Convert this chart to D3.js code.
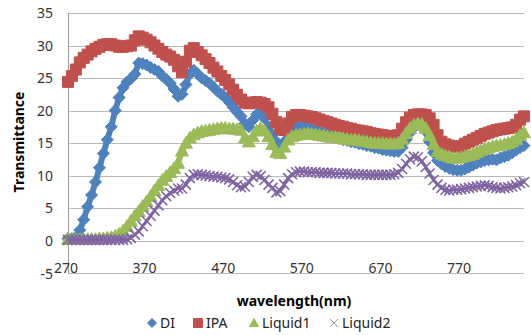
<!DOCTYPE html>
<html>
<head>
<meta charset="utf-8">
<script src="https://cdn.jsdelivr.net/npm/d3@7"></script>
<style>
    body { margin: 0; background: #fff; }
    svg { display: block; font-family: "Noto Sans", "Open Sans", sans-serif; }
</style>
</head>
<body>
<div id="chart"></div>
<script>

// wavelength categories (nm), one reading every 5 nm
var wavelength = d3.range(270, 851, 5);
var xTicks = [270, 370, 470, 570, 670, 770];
var yTicks = [-5, 0, 5, 10, 15, 20, 25, 30, 35];
var seriesNames = ["DI", "IPA", "Liquid1", "Liquid2"];

var di = [
    0.3, 0.3, 0.5, 1.6, 3.2, 5.2, 7.0, 9.0, 11.2, 13.4,
    15.5, 17.5, 20.0, 22.0, 23.5, 24.4, 24.9, 25.6, 27.3, 27.2,
    27.0, 26.6, 26.3, 26.0, 25.3, 24.8, 24.2, 23.3, 22.2, 22.5,
    24.0, 25.6, 26.2, 25.6, 25.0, 24.6, 24.2, 23.6, 23.0, 22.5,
    22.0, 21.3, 20.5, 19.8, 19.1, 18.0, 17.5, 18.5, 19.4, 19.6,
    18.8, 17.5, 16.3, 15.2, 14.4, 15.2, 16.5, 17.2, 17.5, 17.6,
    17.5, 17.3, 17.1, 16.9, 16.7, 16.5, 16.3, 16.1, 15.9, 15.7,
    15.5, 15.4, 15.2, 15.1, 14.9, 14.8, 14.6, 14.5, 14.3, 14.2,
    14.0, 13.9, 13.8, 13.7, 13.7, 14.3, 15.5, 16.6, 17.4, 17.8,
    17.6, 16.8, 15.2, 13.5, 12.3, 11.8, 11.4, 11.1, 10.9, 10.8,
    10.8, 11.0, 11.3, 11.6, 11.9, 12.1, 12.3, 12.4, 12.5, 12.4,
    12.7, 12.9, 13.1, 13.5, 13.9, 14.3, 14.6
];

var ipa = [
    24.4, 25.3, 26.3, 27.4, 28.1, 28.6, 29.1, 29.5, 29.8, 30.1,
    30.2, 30.2, 30.0, 29.8, 29.8, 29.9, 30.0, 30.8, 31.4, 31.2,
    30.9, 30.5, 30.0, 29.5, 29.0, 28.6, 28.3, 27.8, 26.8, 25.9,
    27.5, 29.2, 29.6, 29.0, 28.5, 27.9, 27.3, 26.6, 26.0, 25.3,
    24.7, 24.0, 23.2, 22.4, 21.7, 21.2, 21.1, 21.2, 21.3, 21.2,
    21.0, 20.5, 19.5, 18.2, 17.2, 17.0, 18.0, 19.0, 19.3, 19.3,
    19.2, 19.1, 19.0, 18.8, 18.6, 18.4, 18.2, 18.0, 17.8, 17.6,
    17.5, 17.3, 17.2, 17.0, 16.9, 16.8, 16.7, 16.5, 16.4, 16.3,
    16.2, 16.1, 16.1, 16.0, 16.2, 17.2, 18.2, 18.9, 19.3, 19.4,
    19.4, 19.3, 18.8, 17.8, 16.2, 15.2, 14.8, 14.6, 14.5, 14.4,
    14.5, 14.9, 15.2, 15.5, 15.8, 16.1, 16.4, 16.6, 16.8, 17.0,
    17.1, 17.2, 17.3, 17.4, 17.8, 18.6, 19.1
];

var liquid1 = [
    0.2, 0.2, 0.2, 0.2, 0.2, 0.2, 0.2, 0.2, 0.3, 0.3,
    0.4, 0.5, 0.7, 1.0, 1.5, 2.2, 3.0, 3.8, 4.5, 5.3,
    6.0, 6.8, 7.7, 8.5, 9.3, 9.9, 10.5, 11.1, 11.9, 13.8,
    15.0, 15.8, 16.3, 16.6, 16.8, 16.9, 17.0, 17.1, 17.2, 17.3,
    17.3, 17.2, 17.2, 17.1, 17.0, 15.8, 15.2, 16.0, 16.9, 17.3,
    16.9, 16.0, 14.8, 13.6, 13.4, 14.4, 15.5, 16.0, 16.2, 16.3,
    16.4, 16.5, 16.4, 16.3, 16.2, 16.1, 16.0, 15.9, 15.9, 15.8,
    15.7, 15.6, 15.5, 15.5, 15.4, 15.3, 15.2, 15.1, 15.0, 15.0,
    15.0, 14.9, 14.9, 14.9, 15.0, 15.6, 16.5, 17.3, 17.8, 18.0,
    17.9, 17.3, 16.2, 14.8, 13.7, 13.3, 13.1, 12.9, 12.7, 12.7,
    12.8, 13.0, 13.1, 13.3, 13.6, 13.9, 14.1, 14.3, 14.5, 14.6,
    14.7, 14.8, 15.0, 15.2, 15.6, 16.2, 16.6
];

var liquid2 = [
    0.1, 0.1, 0.1, 0.1, 0.1, 0.1, 0.1, 0.1, 0.1, 0.1,
    0.1, 0.1, 0.1, 0.1, 0.1, 0.2, 0.4, 0.9, 1.4, 2.2,
    3.0, 3.8, 4.6, 5.4, 6.2, 6.8, 7.3, 7.7, 8.0, 8.0,
    8.6, 9.6, 10.1, 10.2, 10.1, 10.0, 9.9, 9.8, 9.8, 9.7,
    9.6, 9.4, 9.0, 8.5, 8.2, 8.3, 9.0, 9.8, 10.1, 9.9,
    9.3, 8.6, 8.1, 7.4, 7.6, 8.6, 9.6, 10.2, 10.5, 10.6,
    10.6, 10.5, 10.5, 10.5, 10.4, 10.4, 10.4, 10.4, 10.3, 10.3,
    10.3, 10.3, 10.2, 10.2, 10.2, 10.2, 10.1, 10.1, 10.1, 10.1,
    10.1, 10.1, 10.1, 10.2, 10.4, 11.0, 11.8, 12.5, 12.9, 12.8,
    12.2, 11.3, 10.3, 9.3, 8.6, 8.1, 7.8, 7.7, 7.8, 7.8,
    7.9, 8.0, 8.1, 8.2, 8.3, 8.4, 8.5, 8.4, 8.2, 8.1,
    8.0, 8.1, 8.2, 8.3, 8.5, 8.8, 9.0
];

var seriesValues = [di, ipa, liquid1, liquid2];

var colors = ["#4F81BD", "#C0504D", "#9BBB59", "#8064A2"];
var markers = ["diamond", "square", "triangle", "cross"];

// marker path around 0,0 with half size r
function markerPath(type, r) {
    if (type == "diamond") {
        return "M0," + (-r) + "L" + r + ",0L0," + r + "L" + (-r) + ",0Z";
    }
    if (type == "square") {
        return "M" + (-r) + "," + (-r) + "h" + (2 * r) + "v" + (2 * r) + "h" + (-2 * r) + "Z";
    }
    if (type == "triangle") {
        return "M0," + (-r) + "L" + r + "," + (r * 0.8) + "L" + (-r) + "," + (r * 0.8) + "Z";
    }
    return "M" + (-r) + "," + (-r) + "L" + r + "," + r + "M" + r + "," + (-r) + "L" + (-r) + "," + r;
}

var markerR = {diamond: 6, square: 5.5, triangle: 6.5, cross: 5};

var width = 531, height = 335;
var plot = {left: 68, right: 524, top: 13, bottom: 273};

var svg = d3.select("#chart").append("svg")
    .attr("width", width)
    .attr("height", height);

var x = d3.scaleLinear()
    .domain([270, 850])
    .range([plot.left, plot.right]);

var y = d3.scaleLinear()
    .domain([-5, 35])
    .range([plot.bottom, plot.top]);

// horizontal gridlines
svg.append("g")
    .selectAll("line")
    .data(yTicks)
    .enter()
    .append("line")
    .attr("x1", plot.left)
    .attr("x2", plot.right)
    .attr("y1", function(d) { return Math.round(y(d)) + 0.5; })
    .attr("y2", function(d) { return Math.round(y(d)) + 0.5; })
    .attr("stroke", "#b9b9b9")
    .attr("stroke-width", 1);

// left axis line
svg.append("line")
    .attr("x1", plot.left + 0.5)
    .attr("x2", plot.left + 0.5)
    .attr("y1", plot.top)
    .attr("y2", plot.bottom + 1)
    .attr("stroke", "#9a9a9a");

// y tick labels
svg.append("g")
    .selectAll("text")
    .data(yTicks)
    .enter()
    .append("text")
    .attr("x", 53)
    .attr("y", function(d) { return y(d) + (d == -5 ? 1 : 0); })
    .attr("dy", "0.36em")
    .attr("text-anchor", "end")
    .style("font-size", "14px")
    .style("fill", "#333")
    .text(function(d) { return d; });

// x tick labels sit on the bottom line
svg.append("g")
    .selectAll("text")
    .data(xTicks)
    .enter()
    .append("text")
    .attr("x", function(d) { return x(d) - 2; })
    .attr("y", plot.bottom)
    .attr("text-anchor", "middle")
    .style("font-size", "14px")
    .style("fill", "#333")
    .text(function(d) { return d; });

// series: thick line then dense markers
seriesValues.forEach(function(vals, i) {
    var pts = wavelength.map(function(w, j) { return {w: w, v: vals[j]}; });
    var g = svg.append("g");
    var isCross = markers[i] == "cross";

    var line = d3.line()
        .x(function(d) { return x(d.w); })
        .y(function(d) { return y(d.v); });

    g.append("path")
        .datum(pts)
        .attr("d", line)
        .attr("fill", "none")
        .attr("stroke", colors[i])
        .attr("stroke-width", isCross ? 3 : 6)
        .attr("stroke-linejoin", "round");

    g.selectAll("path.mk")
        .data(pts)
        .enter()
        .append("path")
        .attr("class", "mk")
        .attr("transform", function(d) { return "translate(" + x(d.w) + "," + y(d.v) + ")"; })
        .attr("d", markerPath(markers[i], markerR[markers[i]]))
        .attr("fill", isCross ? "none" : colors[i])
        .attr("stroke", colors[i])
        .attr("stroke-width", isCross ? 1.6 : 1);
});

// axis titles
svg.append("text")
    .attr("transform", "translate(24,142) rotate(-90)")
    .attr("text-anchor", "middle")
    .style("font-size", "14px")
    .style("font-weight", "bold")
    .text("Transmittance");

svg.append("text")
    .attr("x", 294)
    .attr("y", 306)
    .attr("text-anchor", "middle")
    .style("font-size", "14px")
    .style("font-weight", "bold")
    .text("wavelength(nm)");

// legend
var legendX = [152, 198, 254, 334];
var legend = svg.append("g");
seriesNames.forEach(function(name, i) {
    legend.append("path")
        .attr("transform", "translate(" + legendX[i] + ",323)")
        .attr("d", markerPath(markers[i], markers[i] == "cross" ? 4 : 4.5))
        .attr("fill", markers[i] == "cross" ? "none" : colors[i])
        .attr("stroke", markers[i] == "cross" ? "#999" : colors[i])
        .attr("stroke-width", 1);
    legend.append("text")
        .attr("x", legendX[i] + 8)
        .attr("y", 328)
        .style("font-size", "14px")
        .style("fill", "#222")
        .text(name);
});

</script>
</body>
</html>
